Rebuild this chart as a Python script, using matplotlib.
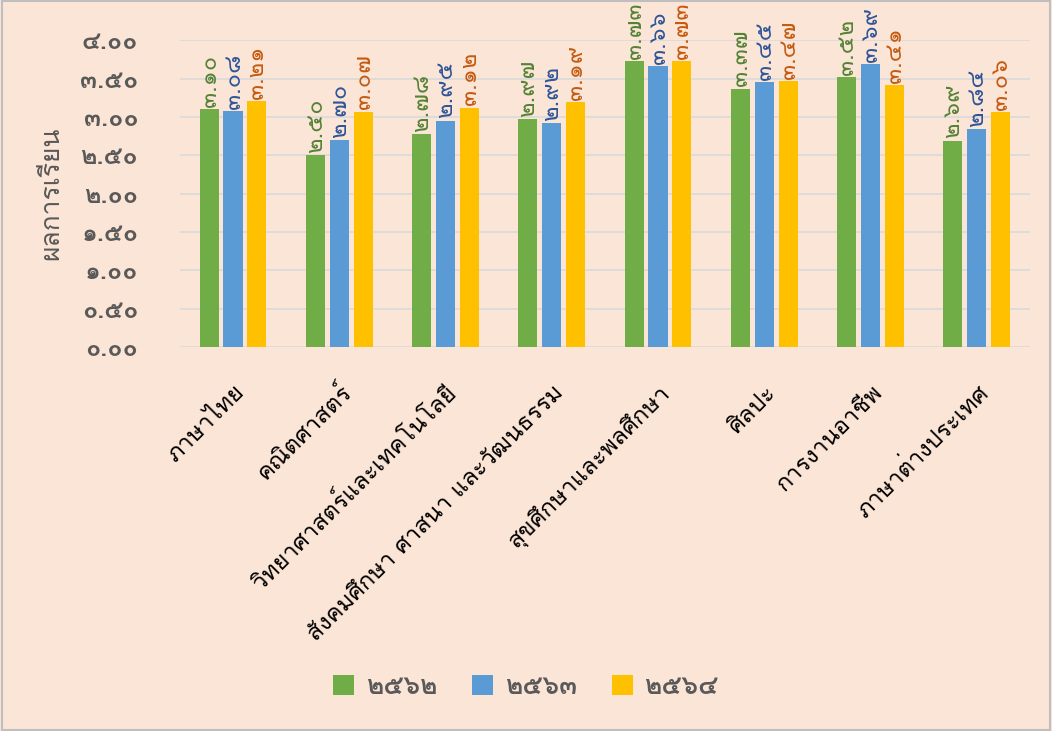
import matplotlib
matplotlib.use("Agg")
import matplotlib.pyplot as plt
from matplotlib import font_manager
from matplotlib.ft2font import FT2Font
import numpy as np

subjects = ["ภาษาไทย", "คณิตศาสตร์", "วิทยาศาสตร์และเทคโนโลยี",
            "สังคมศึกษา ศาสนา และวัฒนธรรม", "สุขศึกษาและพลศึกษา", "ศิลปะ",
            "การงานอาชีพ", "ภาษาต่างประเทศ"]
years = ["๒๕๖๒", "๒๕๖๓", "๒๕๖๔"]
y2562 = [3.10, 2.50, 2.78, 2.97, 3.73, 3.37, 3.52, 2.69]
y2563 = [3.08, 2.70, 2.95, 2.92, 3.66, 3.45, 3.69, 2.84]
y2564 = [3.21, 3.07, 3.12, 3.19, 3.73, 3.47, 3.41, 3.06]
yticks = [0, 0.5, 1, 1.5, 2, 2.5, 3, 3.5, 4]

BG = "#FBE5D6"
BAR_COLORS = ["#70AD47", "#5B9BD5", "#FFC000"]
LABEL_COLORS = ["#548235", "#2F5597", "#C55A11"]
GRAY = "#595959"

THAI_DIGITS = str.maketrans("0123456789", "๐๑๒๓๔๕๖๗๘๙")


def thai_num(v, fmt="{:.2f}"):
    return fmt.format(v).translate(THAI_DIGITS)


def find_thai_fonts():
    names = []
    for f in font_manager.fontManager.ttflist:
        try:
            cmap = FT2Font(f.fname).get_charmap()
        except Exception:
            continue
        if ord("ก") in cmap and ord("๕") in cmap and f.name not in names:
            names.append(f.name)
    return names


thai = find_thai_fonts()
plt.rcParams["font.family"] = thai + ["DejaVu Sans"]

fig = plt.figure(figsize=(10.52, 7.31), dpi=100)
fig.patch.set_facecolor(BG)
ax = fig.add_axes([0.171, 0.525, 0.808, 0.42])
ax.set_facecolor(BG)

x = np.arange(len(subjects))
w = 0.18
step = 0.225
series = [y2562, y2563, y2564]
for i, vals in enumerate(series):
    pos = x + (i - 1) * step
    ax.bar(pos, vals, w, color=BAR_COLORS[i], label=years[i], zorder=3)
    for p, v in zip(pos, vals):
        ax.text(p, v + 0.03, thai_num(v), rotation=90, ha="center", va="bottom",
                color=LABEL_COLORS[i], fontsize=17, zorder=4)

ax.set_xlim(-0.5, len(subjects) - 0.5)
ax.set_ylim(0, 4.0)
ax.set_yticks(yticks)
ax.set_yticklabels([thai_num(t) for t in yticks], color=GRAY, fontsize=18,
                   fontweight="bold")
ax.set_xticks(x)
ax.set_xticklabels(subjects, rotation=45, ha="right", rotation_mode="anchor",
                   fontsize=17, color="black")
ax.tick_params(axis="y", length=0, pad=30)
ax.tick_params(axis="x", length=0, pad=24)
ax.yaxis.grid(True, color="#D9D9D9", linewidth=1.2, zorder=0)
for s in ax.spines.values():
    s.set_visible(False)
ax.set_ylabel("ผลการเรียน", color=GRAY, fontsize=19, labelpad=12)

fig.legend(loc="center", bbox_to_anchor=(0.5, 0.06), ncol=3, frameon=False,
           handlelength=0.8, handleheight=0.8, handletextpad=0.45,
           columnspacing=1.3, labelcolor=GRAY,
           prop={"weight": "bold", "size": 19})

fig.add_artist(plt.Rectangle((0.002, 0.002), 0.996, 0.996, transform=fig.transFigure,
                             fill=False, edgecolor="#BFBFBF", linewidth=1.5))

fig.savefig("out.png", dpi=100, facecolor=BG)
